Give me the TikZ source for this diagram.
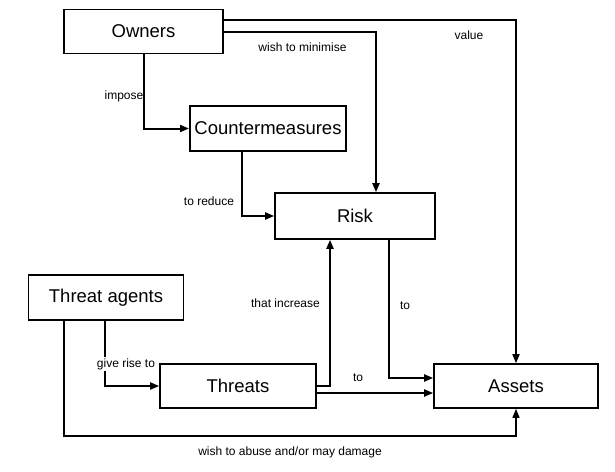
\documentclass[tikz,border=0pt]{standalone}
\usepackage{fontspec}
\setmainfont{Liberation Sans}
\usetikzlibrary{arrows.meta}
\tikzset{
  box/.style={draw, line width=1.6pt, inner sep=0pt, font=\fontsize{18.5}{22}\selectfont},
  conn/.style={line width=2pt, -{Triangle[length=9pt,width=7pt]}},
  lbl/.style={inner sep=0pt, font=\fontsize{12}{14}\selectfont},
}
\begin{document}
\begin{tikzpicture}[x=1pt,y=-1pt]
\useasboundingbox (0,0) rectangle (615,471);
\node[box, minimum width=159pt, minimum height=44pt] (own) at (143.5,31.5) {Owners};
\node[box, line width=2pt, minimum width=156pt, minimum height=45pt] (cm) at (268,128.5) {Countermeasures};
\node[box, minimum width=160pt, minimum height=46pt] (risk) at (355,216) {Risk};
\node[box, minimum width=155pt, minimum height=45pt] (ta) at (106,297.5) {Threat agents};
\node[box, minimum width=156pt, minimum height=44pt] (thr) at (238,386) {Threats};
\node[box, minimum width=164pt, minimum height=44pt] (ast) at (516,386) {Assets};
% connectors
\draw[conn, line width=1.6pt] ([yshift=11.5pt]own.east) -| (ast.north);
\draw[conn] ([yshift=-0.5pt]own.east) -| ([xshift=21pt]risk.north);
\draw[conn] (own.south) |- (cm.west);
\draw[conn] ([xshift=-26.5pt]cm.south) |- (risk.west);
\draw[conn] (thr.east) -| ([xshift=-25pt]risk.south);
\draw[conn] ([xshift=34pt]risk.south) |- ([yshift=8pt]ast.west);
\draw[conn] ([yshift=-7pt]thr.east) -- ([yshift=-7pt]ast.west);
\draw[conn] ([xshift=-1pt]ta.south) |- (thr.west);
\coordinate (ab) at (516,436);
\draw[conn, line width=1.3pt] ([xshift=-42pt]ta.south) |- (ab) -- (ast.south);
% labels
\node[lbl] (l1) at (469,35) {value};
\node[lbl] (l2) at (302.5,47) {wish to minimise};
\node[lbl, anchor=east] (l3) at (143.5,96) {impose};
\node[lbl] (l4) at (209,201) {to reduce};
\node[lbl] (l5) at (285.5,303) {that increase};
\node[lbl] (l6) at (405,306) {to};
\node[lbl] (l7) at (358,378) {to};
\node[lbl, fill=white, inner sep=1pt] (l8) at (126,364) {give rise to};
\node[lbl] (l9) at (290,452) {wish to abuse and/or may damage};
\end{tikzpicture}
\end{document}
